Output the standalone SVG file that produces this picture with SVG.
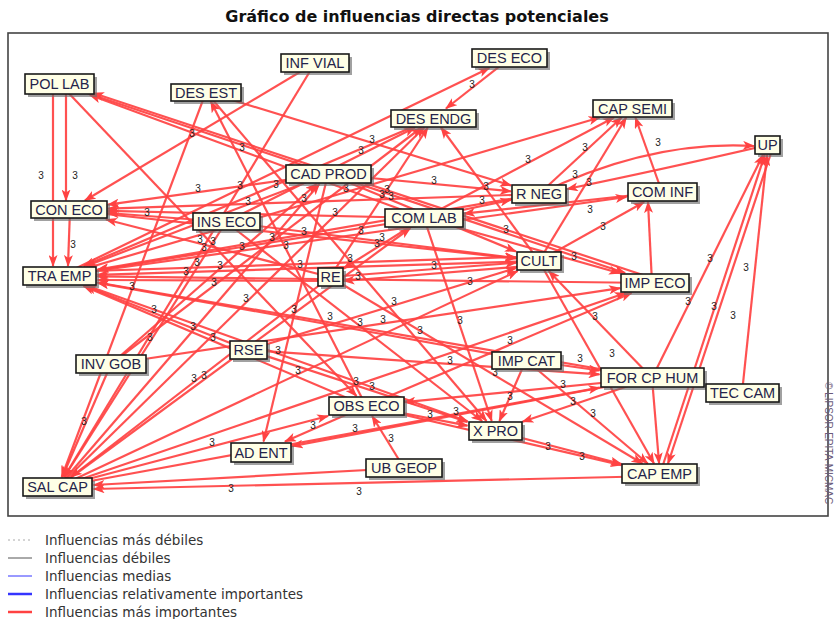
<svg xmlns="http://www.w3.org/2000/svg" width="834" height="619" viewBox="0 0 834 619">
<style>
.title{font-family:"DejaVu Sans","Liberation Sans",sans-serif;font-size:16px;font-weight:bold;fill:#111;}
.e{stroke:#ff4242;stroke-width:2.2;fill:none;stroke-opacity:.92;marker-end:url(#ah);}
.lb{font-family:"Liberation Sans",Arial,sans-serif;font-size:10px;fill:#222;text-anchor:middle;}
.sh{fill:#6f6f6f;opacity:.65;}
.bx{fill:#ffffe6;stroke:#1a1a1a;stroke-width:1.6;}
.nt{font-family:"Liberation Sans",Arial,sans-serif;font-size:14.5px;fill:#24244a;text-anchor:middle;}
.lg{font-family:"DejaVu Sans","Liberation Sans",sans-serif;font-size:13.5px;fill:#333;}
.wm{font-family:"Liberation Sans",Arial,sans-serif;font-size:10px;fill:#6a5a7a;}
</style>
<defs>
<marker id="ah" markerWidth="12" markerHeight="9" refX="11" refY="4.5" orient="auto" markerUnits="userSpaceOnUse"><path d="M0,0 L12,4.5 L0,9 L3,4.5 z" fill="#ff4242"/></marker>
</defs>
<rect width="834" height="619" fill="#fff"/>
<text class="title" x="417" y="22" text-anchor="middle">Gráfico de influencias directas potenciales</text>
<rect x="8" y="33" width="820" height="483" fill="none" stroke="#444" stroke-width="1.6"/>
<g id="connectors">
<line class="e" x1="58" y1="487" x2="424.3" y2="127.5"/>
<line class="e" x1="58" y1="487" x2="319.4" y2="184"/>
<line class="e" x1="58" y1="487" x2="410.4" y2="228"/>
<line class="e" x1="58" y1="487" x2="625.7" y2="293"/>
<line class="e" x1="58" y1="487" x2="328.1" y2="416"/>
<line class="e" x1="58" y1="487" x2="599.5" y2="387.6"/>
<line class="e" x1="58" y1="487" x2="517.7" y2="271"/>
<line class="e" x1="111" y1="364" x2="62.3" y2="477"/>
<line class="e" x1="226" y1="222" x2="64.3" y2="477"/>
<line class="e" x1="206" y1="92" x2="61.7" y2="477"/>
<line class="e" x1="315" y1="63" x2="64.1" y2="477"/>
<line class="e" x1="404" y1="468" x2="93.5" y2="485"/>
<line class="e" x1="660" y1="476" x2="93.5" y2="489"/>
<line class="e" x1="330" y1="277" x2="70.9" y2="477"/>
<line class="e" x1="53" y1="84" x2="53" y2="266"/>
<line class="e" x1="66" y1="84" x2="66" y2="200.5"/>
<line class="e" x1="70" y1="210" x2="68" y2="266"/>
<line class="e" x1="60" y1="84" x2="625.1" y2="273"/>
<line class="e" x1="655" y1="279" x2="93" y2="93"/>
<line class="e" x1="60" y1="84" x2="356.5" y2="396"/>
<line class="e" x1="424" y1="218" x2="89.9" y2="95"/>
<line class="e" x1="315" y1="63" x2="84.9" y2="200.5"/>
<line class="e" x1="366" y1="406" x2="210.8" y2="101.5"/>
<line class="e" x1="206" y1="92" x2="511" y2="185.4"/>
<line class="e" x1="206" y1="92" x2="486.5" y2="421"/>
<line class="e" x1="60" y1="276" x2="489.4" y2="68"/>
<line class="e" x1="510" y1="58" x2="446" y2="108.5"/>
<line class="e" x1="539" y1="261" x2="441" y2="127.5"/>
<line class="e" x1="330" y1="277" x2="427.8" y2="127.5"/>
<line class="e" x1="111" y1="364" x2="421.5" y2="127.5"/>
<line class="e" x1="434" y1="118" x2="83.7" y2="266"/>
<line class="e" x1="539" y1="194" x2="621.7" y2="117.5"/>
<line class="e" x1="424" y1="218" x2="614" y2="117.5"/>
<line class="e" x1="539" y1="261" x2="626.2" y2="117.5"/>
<line class="e" x1="662" y1="192" x2="635.4" y2="117.5"/>
<line class="e" x1="60" y1="276" x2="599.7" y2="117.5"/>
<path class="e" d="M539,194 Q650,140 754,146"/>
<path class="e" d="M768,145 Q660,170 567,189"/>
<line class="e" x1="660" y1="474" x2="764.7" y2="155"/>
<line class="e" x1="742" y1="393" x2="767" y2="155"/>
<line class="e" x1="652" y1="378" x2="763" y2="155"/>
<line class="e" x1="772" y1="150" x2="668" y2="463.5"/>
<line class="e" x1="328" y1="174" x2="108" y2="204.6"/>
<line class="e" x1="328" y1="174" x2="263.5" y2="441.5"/>
<line class="e" x1="328" y1="174" x2="86.3" y2="266"/>
<line class="e" x1="328" y1="174" x2="516" y2="251.5"/>
<line class="e" x1="424" y1="218" x2="108" y2="210.9"/>
<line class="e" x1="539" y1="194" x2="108" y2="208.7"/>
<line class="e" x1="330" y1="277" x2="106" y2="219.5"/>
<line class="e" x1="69" y1="210" x2="516" y2="258.5"/>
<line class="e" x1="226" y1="222" x2="516" y2="258.1"/>
<line class="e" x1="226" y1="222" x2="482.1" y2="421"/>
<line class="e" x1="424" y1="218" x2="97.5" y2="270"/>
<line class="e" x1="424" y1="218" x2="491.7" y2="421"/>
<line class="e" x1="424" y1="218" x2="620" y2="273.2"/>
<line class="e" x1="424" y1="218" x2="343.5" y2="268.5"/>
<line class="e" x1="424" y1="218" x2="511" y2="199.8"/>
<line class="e" x1="539" y1="261" x2="97.5" y2="274.8"/>
<line class="e" x1="655" y1="283" x2="97.5" y2="276.4"/>
<line class="e" x1="652" y1="378" x2="97.5" y2="282.5"/>
<line class="e" x1="60" y1="272" x2="516" y2="257"/>
<line class="e" x1="330" y1="281" x2="97.5" y2="280"/>
<line class="e" x1="60" y1="276" x2="467.5" y2="421.2"/>
<line class="e" x1="366" y1="406" x2="83.5" y2="286"/>
<line class="e" x1="526" y1="360" x2="97.5" y2="282.8"/>
<line class="e" x1="330" y1="277" x2="516" y2="262.8"/>
<line class="e" x1="330" y1="277" x2="642.4" y2="463.5"/>
<line class="e" x1="539" y1="265" x2="343.5" y2="281"/>
<line class="e" x1="662" y1="192" x2="464" y2="213.6"/>
<line class="e" x1="539" y1="261" x2="644.2" y2="202"/>
<line class="e" x1="60" y1="276" x2="626.5" y2="197"/>
<line class="e" x1="652" y1="283" x2="648" y2="202"/>
<line class="e" x1="111" y1="364" x2="620" y2="288.2"/>
<line class="e" x1="248" y1="350" x2="85.4" y2="286"/>
<line class="e" x1="248" y1="350" x2="599.5" y2="374.4"/>
<line class="e" x1="248" y1="350" x2="467.5" y2="422"/>
<line class="e" x1="652" y1="378" x2="404.5" y2="402.2"/>
<line class="e" x1="366" y1="406" x2="467.5" y2="425.7"/>
<line class="e" x1="366" y1="406" x2="621.5" y2="465.1"/>
<line class="e" x1="404" y1="468" x2="372.1" y2="416"/>
<line class="e" x1="366" y1="406" x2="285" y2="441.5"/>
<line class="e" x1="652" y1="378" x2="292" y2="446.1"/>
<line class="e" x1="526" y1="360" x2="599.5" y2="370.5"/>
<line class="e" x1="526" y1="360" x2="499.4" y2="421"/>
<line class="e" x1="526" y1="360" x2="647.7" y2="463.5"/>
<line class="e" x1="652" y1="378" x2="548.7" y2="271"/>
<line class="e" x1="652" y1="378" x2="522.5" y2="421.7"/>
<line class="e" x1="652" y1="378" x2="659.1" y2="463.5"/>
<line class="e" x1="539" y1="261" x2="654" y2="463.5"/>
<line class="e" x1="495" y1="431" x2="621.5" y2="464"/>
<line class="e" x1="226" y1="222" x2="108" y2="213"/>
<line class="e" x1="111" y1="364" x2="316.6" y2="184"/>
<line class="e" x1="539" y1="194" x2="97.5" y2="269.6"/>
<line class="e" x1="328" y1="174" x2="511" y2="191.3"/>
<line class="e" x1="226" y1="222" x2="415" y2="127.5"/>
<line class="e" x1="248" y1="350" x2="516" y2="268"/>
<line class="e" x1="366" y1="406" x2="631.6" y2="293"/>
</g>
<g id="edge-labels">
<text class="lb" x="246" y="302">3</text>
<text class="lb" x="193" y="330">3</text>
<text class="lb" x="204" y="379">3</text>
<text class="lb" x="356" y="385">3</text>
<text class="lb" x="212" y="446">3</text>
<text class="lb" x="355" y="432">3</text>
<text class="lb" x="298" y="374">3</text>
<text class="lb" x="84" y="425">3</text>
<text class="lb" x="150" y="341">3</text>
<text class="lb" x="132" y="290">3</text>
<text class="lb" x="186" y="275">3</text>
<text class="lb" x="231" y="492">3</text>
<text class="lb" x="359" y="495">3</text>
<text class="lb" x="194" y="382">3</text>
<text class="lb" x="41" y="179">3</text>
<text class="lb" x="75" y="179">3</text>
<text class="lb" x="73" y="248">3</text>
<text class="lb" x="387" y="193">3</text>
<text class="lb" x="506" y="233">3</text>
<text class="lb" x="213" y="245">3</text>
<text class="lb" x="242" y="151">3</text>
<text class="lb" x="192" y="137">3</text>
<text class="lb" x="286" y="249">3</text>
<text class="lb" x="372" y="143">3</text>
<text class="lb" x="350" y="262">3</text>
<text class="lb" x="240" y="189">3</text>
<text class="lb" x="472" y="88">3</text>
<text class="lb" x="486" y="190">3</text>
<text class="lb" x="382" y="198">3</text>
<text class="lb" x="272" y="241">3</text>
<text class="lb" x="276" y="188">3</text>
<text class="lb" x="585" y="151">3</text>
<text class="lb" x="528" y="163">3</text>
<text class="lb" x="589" y="186">3</text>
<text class="lb" x="658" y="146">3</text>
<text class="lb" x="346" y="192">3</text>
<text class="lb" x="575" y="178">3</text>
<text class="lb" x="714" y="310">3</text>
<text class="lb" x="746" y="271">3</text>
<text class="lb" x="710" y="262">3</text>
<text class="lb" x="733" y="319">3</text>
<text class="lb" x="198" y="192">3</text>
<text class="lb" x="294" y="313">3</text>
<text class="lb" x="248" y="205">3</text>
<text class="lb" x="391" y="200">3</text>
<text class="lb" x="335" y="216">3</text>
<text class="lb" x="304" y="202">3</text>
<text class="lb" x="200" y="243">3</text>
<text class="lb" x="304" y="235">3</text>
<text class="lb" x="382" y="241">3</text>
<text class="lb" x="360" y="326">3</text>
<text class="lb" x="242" y="250">3</text>
<text class="lb" x="460" y="324">3</text>
<text class="lb" x="574" y="260">3</text>
<text class="lb" x="377" y="247">3</text>
<text class="lb" x="482" y="204">3</text>
<text class="lb" x="300" y="268">3</text>
<text class="lb" x="358" y="280">3</text>
<text class="lb" x="420" y="334">3</text>
<text class="lb" x="197" y="266">3</text>
<text class="lb" x="214" y="286">3</text>
<text class="lb" x="278" y="354">3</text>
<text class="lb" x="213" y="341">3</text>
<text class="lb" x="330" y="320">3</text>
<text class="lb" x="434" y="269">3</text>
<text class="lb" x="495" y="376">3</text>
<text class="lb" x="470" y="285">3</text>
<text class="lb" x="590" y="213">3</text>
<text class="lb" x="603" y="230">3</text>
<text class="lb" x="361" y="234">3</text>
<text class="lb" x="688" y="305">3</text>
<text class="lb" x="383" y="323">3</text>
<text class="lb" x="154" y="313">3</text>
<text class="lb" x="450" y="364">3</text>
<text class="lb" x="372" y="390">3</text>
<text class="lb" x="563" y="388">3</text>
<text class="lb" x="430" y="418">3</text>
<text class="lb" x="548" y="450">3</text>
<text class="lb" x="391" y="442">3</text>
<text class="lb" x="313" y="429">3</text>
<text class="lb" x="456" y="415">3</text>
<text class="lb" x="580" y="362">3</text>
<text class="lb" x="510" y="400">3</text>
<text class="lb" x="593" y="417">3</text>
<text class="lb" x="595" y="320">3</text>
<text class="lb" x="573" y="405">3</text>
<text class="lb" x="612" y="357">3</text>
<text class="lb" x="582" y="460">3</text>
<text class="lb" x="147" y="216">3</text>
<text class="lb" x="220" y="269">3</text>
<text class="lb" x="204" y="251">3</text>
<text class="lb" x="434" y="184">3</text>
<text class="lb" x="361" y="154">3</text>
<text class="lb" x="394" y="305">3</text>
<text class="lb" x="510" y="344">3</text>
</g>
<g id="n-pol-lab"><rect class="sh" x="28" y="77" width="69" height="20"/><rect class="bx" x="25" y="74" width="69" height="20"/><text class="nt" x="59.5" y="89">POL LAB</text></g>
<g id="n-des-est"><rect class="sh" x="174" y="87" width="70" height="17"/><rect class="bx" x="171" y="84" width="70" height="17"/><text class="nt" x="206" y="97.5">DES EST</text></g>
<g id="n-inf-vial"><rect class="sh" x="284" y="57" width="68" height="18"/><rect class="bx" x="281" y="54" width="68" height="18"/><text class="nt" x="315" y="68">INF VIAL</text></g>
<g id="n-des-eco"><rect class="sh" x="475" y="52" width="75" height="18"/><rect class="bx" x="472" y="49" width="75" height="18"/><text class="nt" x="509.5" y="63">DES ECO</text></g>
<g id="n-des-endg"><rect class="sh" x="394" y="113" width="85" height="17"/><rect class="bx" x="391" y="110" width="85" height="17"/><text class="nt" x="433.5" y="123.5">DES ENDG</text></g>
<g id="n-cap-semi"><rect class="sh" x="596" y="103" width="79" height="17"/><rect class="bx" x="593" y="100" width="79" height="17"/><text class="nt" x="632.5" y="113.5">CAP SEMI</text></g>
<g id="n-up"><rect class="sh" x="758" y="139" width="25" height="18"/><rect class="bx" x="755" y="136" width="25" height="18"/><text class="nt" x="767.5" y="150">UP</text></g>
<g id="n-cad-prod"><rect class="sh" x="289" y="168" width="85" height="18"/><rect class="bx" x="286" y="165" width="85" height="18"/><text class="nt" x="328.5" y="179">CAD PROD</text></g>
<g id="n-con-eco"><rect class="sh" x="34" y="204" width="76" height="17"/><rect class="bx" x="31" y="201" width="76" height="17"/><text class="nt" x="69" y="214.5">CON ECO</text></g>
<g id="n-ins-eco"><rect class="sh" x="196" y="216" width="67" height="17"/><rect class="bx" x="193" y="213" width="67" height="17"/><text class="nt" x="226.5" y="226.5">INS ECO</text></g>
<g id="n-com-lab"><rect class="sh" x="388" y="212" width="78" height="18"/><rect class="bx" x="385" y="209" width="78" height="18"/><text class="nt" x="424" y="223">COM LAB</text></g>
<g id="n-tra-emp"><rect class="sh" x="26" y="270" width="73" height="18"/><rect class="bx" x="23" y="267" width="73" height="18"/><text class="nt" x="59.5" y="281">TRA EMP</text></g>
<g id="n-re"><rect class="sh" x="321" y="271" width="25" height="18"/><rect class="bx" x="318" y="268" width="25" height="18"/><text class="nt" x="330.5" y="282">RE</text></g>
<g id="n-r-neg"><rect class="sh" x="515" y="188" width="54" height="18"/><rect class="bx" x="512" y="185" width="54" height="18"/><text class="nt" x="539" y="199">R NEG</text></g>
<g id="n-com-inf"><rect class="sh" x="631" y="186" width="69" height="18"/><rect class="bx" x="628" y="183" width="69" height="18"/><text class="nt" x="662.5" y="197">COM INF</text></g>
<g id="n-cult"><rect class="sh" x="520" y="255" width="44" height="18"/><rect class="bx" x="517" y="252" width="44" height="18"/><text class="nt" x="539" y="266">CULT</text></g>
<g id="n-imp-eco"><rect class="sh" x="624" y="277" width="68" height="18"/><rect class="bx" x="621" y="274" width="68" height="18"/><text class="nt" x="655" y="288">IMP ECO</text></g>
<g id="n-rse"><rect class="sh" x="233" y="344" width="37" height="18"/><rect class="bx" x="230" y="341" width="37" height="18"/><text class="nt" x="248.5" y="355">RSE</text></g>
<g id="n-inv-gob"><rect class="sh" x="79" y="358" width="70" height="18"/><rect class="bx" x="76" y="355" width="70" height="18"/><text class="nt" x="111" y="369">INV GOB</text></g>
<g id="n-obs-eco"><rect class="sh" x="332" y="400" width="75" height="18"/><rect class="bx" x="329" y="397" width="75" height="18"/><text class="nt" x="366.5" y="411">OBS ECO</text></g>
<g id="n-ad-ent"><rect class="sh" x="234" y="446" width="60" height="19"/><rect class="bx" x="231" y="443" width="60" height="19"/><text class="nt" x="261" y="457.5">AD ENT</text></g>
<g id="n-ub-geop"><rect class="sh" x="369" y="462" width="76" height="18"/><rect class="bx" x="366" y="459" width="76" height="18"/><text class="nt" x="404" y="473">UB GEOP</text></g>
<g id="n-sal-cap"><rect class="sh" x="26" y="481" width="69" height="18"/><rect class="bx" x="23" y="478" width="69" height="18"/><text class="nt" x="57.5" y="492">SAL CAP</text></g>
<g id="n-imp-cat"><rect class="sh" x="495" y="355" width="69" height="17"/><rect class="bx" x="492" y="352" width="69" height="17"/><text class="nt" x="526.5" y="365.5">IMP CAT</text></g>
<g id="n-for-cp-hum"><rect class="sh" x="604" y="371" width="103" height="19"/><rect class="bx" x="601" y="368" width="103" height="19"/><text class="nt" x="652.5" y="382.5">FOR CP HUM</text></g>
<g id="n-tec-cam"><rect class="sh" x="709" y="387" width="73" height="18"/><rect class="bx" x="706" y="384" width="73" height="18"/><text class="nt" x="742.5" y="398">TEC CAM</text></g>
<g id="n-x-pro"><rect class="sh" x="472" y="425" width="53" height="18"/><rect class="bx" x="469" y="422" width="53" height="18"/><text class="nt" x="495.5" y="436">X PRO</text></g>
<g id="n-cap-emp"><rect class="sh" x="625" y="467" width="75" height="19"/><rect class="bx" x="622" y="464" width="75" height="19"/><text class="nt" x="659.5" y="478.5">CAP EMP</text></g>
<text class="wm" transform="translate(825,382) rotate(90)">© LIPSOR-EPITA-MICMAC</text>
<g id="legend">
<line x1="8" y1="540" x2="32" y2="540" stroke="#aaa" stroke-width="1" stroke-dasharray="2,3"/>
<text class="lg" x="45" y="544.5">Influencias más débiles</text>
<line x1="8" y1="558" x2="32" y2="558" stroke="#555" stroke-width="1"/>
<text class="lg" x="45" y="562.5">Influencias débiles</text>
<line x1="8" y1="576" x2="32" y2="576" stroke="#3535ff" stroke-width="1"/>
<text class="lg" x="45" y="580.5">Influencias medias</text>
<line x1="8" y1="594" x2="32" y2="594" stroke="#3535ff" stroke-width="2.5"/>
<text class="lg" x="45" y="598.5">Influencias relativamente importantes</text>
<line x1="8" y1="612" x2="32" y2="612" stroke="#ff4242" stroke-width="2.5"/>
<text class="lg" x="45" y="616.5">Influencias más importantes</text>
</g>
</svg>
